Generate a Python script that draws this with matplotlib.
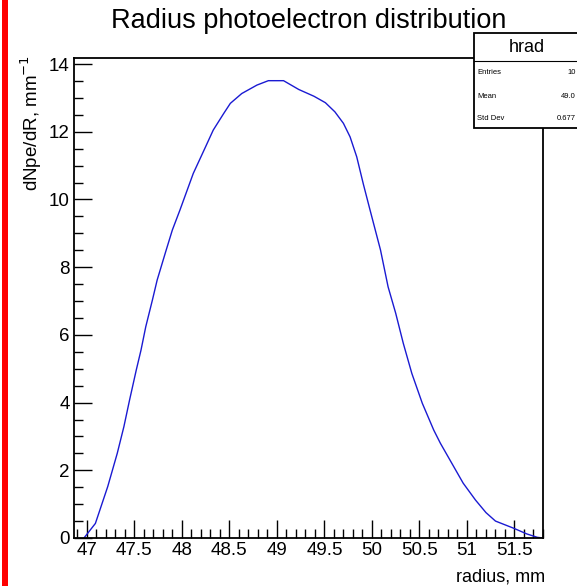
import matplotlib
matplotlib.use("Agg")
import matplotlib.pyplot as plt
from matplotlib.patches import Rectangle
from matplotlib.lines import Line2D
from matplotlib.ticker import MultipleLocator

plt.rcParams['font.family'] = ['Liberation Sans', 'DejaVu Sans']

# Data
radius = [46.97, 47.09, 47.22, 47.32, 47.39, 47.45, 47.52, 47.57, 47.62, 47.69,
          47.74, 47.83, 47.90, 47.98, 48.12, 48.25, 48.33, 48.44, 48.51, 48.63,
          48.79, 48.91, 49.07, 49.23, 49.39, 49.51, 49.61, 49.70, 49.77, 49.84,
          49.91, 49.98, 50.09, 50.17, 50.25, 50.33, 50.42, 50.53, 50.65, 50.72,
          50.84, 50.96, 51.09, 51.20, 51.30, 51.49, 51.63, 51.74, 51.80]
dnpe = [0.0, 0.43, 1.52, 2.50, 3.29, 4.08, 4.96, 5.55, 6.24, 7.03,
        7.62, 8.46, 9.10, 9.69, 10.77, 11.56, 12.05, 12.54, 12.84, 13.13,
        13.38, 13.51, 13.51, 13.25, 13.05, 12.86, 12.59, 12.25, 11.85, 11.26,
        10.45, 9.69, 8.51, 7.42, 6.64, 5.75, 4.86, 3.98, 3.19, 2.80,
        2.21, 1.62, 1.12, 0.75, 0.50, 0.29, 0.12, 0.02, 0.0]

title = "Radius photoelectron distribution"
xlabel = "radius, mm"
ylabel = "dNpe/dR, mm$^{-1}$"
stats_name = "hrad"
stats_labels = ["Entries", "Mean", "Std Dev"]
stats_values = ["10", "49.0", "0.677"]

W, H = 577, 586
fig = plt.figure(figsize=(W / 100, H / 100), dpi=100)
fig.patch.set_facecolor('white')

def fx(px):
    return px / W

def fy(py):
    return (H - py) / H

ax = fig.add_axes([fx(74), fy(538), fx(543) - fx(74), fy(58) - fy(538)])
ax.plot(radius, dnpe, color='#1a1ad2', lw=1.0)
ax.set_xlim(46.865, 51.80)
ax.set_ylim(0, 14.18)

ax.xaxis.set_major_locator(MultipleLocator(0.5))
ax.xaxis.set_minor_locator(MultipleLocator(0.1))
ax.yaxis.set_major_locator(MultipleLocator(2))
ax.yaxis.set_minor_locator(MultipleLocator(0.5))
ax.tick_params(which='both', direction='in', top=False, right=False, width=1.0, color='black')
ax.tick_params(which='major', length=13, labelsize=13.5, pad=3)
ax.tick_params(which='minor', length=6.5)
ax.set_xticks([47, 47.5, 48, 48.5, 49, 49.5, 50, 50.5, 51, 51.5])
ax.set_xticklabels(["47", "47.5", "48", "48.5", "49", "49.5", "50", "50.5", "51", "51.5"])
for s in ax.spines.values():
    s.set_linewidth(1.3)
    s.set_color('black')

fig.text(fx(309), fy(28), title, ha='center', va='baseline', fontsize=19.5)
fig.text(fx(545), fy(581), xlabel, ha='right', va='baseline', fontsize=13)
fig.text(fx(31), fy(55), ylabel, ha='center', va='top', rotation=90, fontsize=13.5)

# red bar at the left edge
fig.patches.append(Rectangle((fx(2), 0), fx(5.5), 1, transform=fig.transFigure,
                             facecolor='#ff0000', edgecolor='none', zorder=5))

# stats box (cut by the right edge as in the reference)
bx0, by0, by1 = 474, 33, 128
fig.patches.append(Rectangle((fx(bx0), fy(by1)), fx(W + 20) - fx(bx0), fy(by0) - fy(by1),
                             transform=fig.transFigure, facecolor='white',
                             edgecolor='black', lw=1.3, zorder=10))
fig.lines.append(Line2D([fx(bx0), fx(W + 20)], [fy(61), fy(61)], transform=fig.transFigure,
                        color='black', lw=0.8, zorder=11))
fig.text(fx(527), fy(48), stats_name, ha='center', va='center', fontsize=13, zorder=12)
rows_y = [73, 96, 119]
for lab, val, yy in zip(stats_labels, stats_values, rows_y):
    fig.text(fx(477), fy(yy), lab, ha='left', va='center', fontsize=5.5, zorder=12)
    fig.text(fx(576), fy(yy), val, ha='right', va='center', fontsize=5.5, zorder=12)

fig.savefig("out.png", dpi=100)
